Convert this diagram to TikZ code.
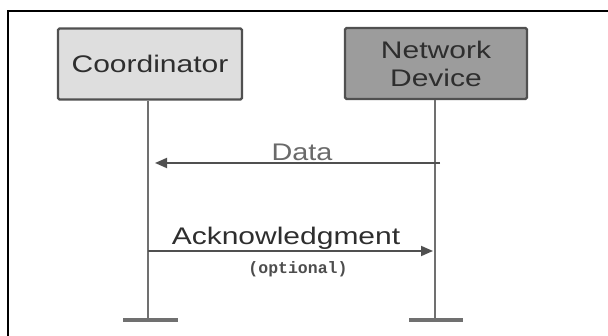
\documentclass[tikz,border=0pt]{standalone}
\usepackage{graphicx}
\usepackage{fontspec}
\setmainfont{Liberation Sans}
\newfontfamily\monof{Liberation Mono}
\usetikzlibrary{arrows.meta,calc}
\definecolor{lightfill}{HTML}{DEDEDE}
\definecolor{darkfill}{HTML}{9C9C9C}
\definecolor{boxline}{HTML}{505050}
\definecolor{txt}{HTML}{2E2E2E}
\definecolor{lifec}{HTML}{707070}
\definecolor{msgc}{HTML}{505050}
\definecolor{datatxt}{HTML}{6A6A6A}
\newcommand{\hsc}[1]{\scalebox{1.25}[1]{#1}}
\begin{document}
\begin{tikzpicture}[x=1pt,y=-1pt]
\tikzset{
  actor/.style={draw=boxline, line width=2.2pt, rounded corners=1.5pt,
    minimum width=184pt, minimum height=71pt, inner sep=0pt,
    font=\fontsize{24}{28}\selectfont, text=txt, align=center},
  life/.style={draw=lifec, line width=2.8pt},
  endbar/.style={draw=lifec, line width=4.5pt},
  msg/.style={draw=msgc, line width=1.8pt, -{Triangle[length=12pt,width=10pt]}},
  lbl/.style={anchor=base, inner sep=0pt, font=\fontsize{24}{28}\selectfont, text=txt},
  small/.style={anchor=base, inner sep=0pt, font=\monof\bfseries\fontsize{16.5}{18}\selectfont, text=txt!85!white},
  frameline/.style={draw=black, line width=1.8pt}
}
\useasboundingbox (0,0) rectangle (608,336);
\fill[white] (0,0) rectangle (608,336);
% frame
\coordinate (fl) at (8,336);
\coordinate (fc) at (8,11);
\coordinate (fr) at (608,11);
\draw[frameline] (fl) -- (fc) -- (fr);
% actors
\node[actor, fill=lightfill] (coord) at (150,64) {\hsc{Coordinator}};
\node[actor, fill=darkfill, minimum width=182pt] (netdev) at (436,63.5) {\hsc{Network}\\\hsc{Device}};
% lifelines
\coordinate (cbot) at (148,320);
\coordinate (nbot) at (435,320);
\draw[life] (coord.south -| cbot) -- (cbot);
\draw[life] (netdev.south -| nbot) -- (nbot);
\coordinate (cbl) at (123,320);
\coordinate (cbr) at (178,320);
\coordinate (nbl) at (409,320);
\coordinate (nbr) at (463,320);
\draw[endbar] (cbl) -- (cbr);
\draw[endbar] (nbl) -- (nbr);
% messages
\coordinate (d1) at (440,163);
\coordinate (d2) at (155,163);
\draw[msg] (d1) -- (d2);
\node[lbl, text=datatxt] (datalbl) at (302,161) {\scalebox{1.2}[1]{Data}};
\coordinate (a1) at (148,251);
\coordinate (a2) at (433,251);
\draw[msg] (a1) -- (a2);
\node[lbl] (acklbl) at (286,245) {\hsc{Acknowledgment}};
\node[small] (optlbl) at (298,274) {(optional)};
\end{tikzpicture}
\end{document}
